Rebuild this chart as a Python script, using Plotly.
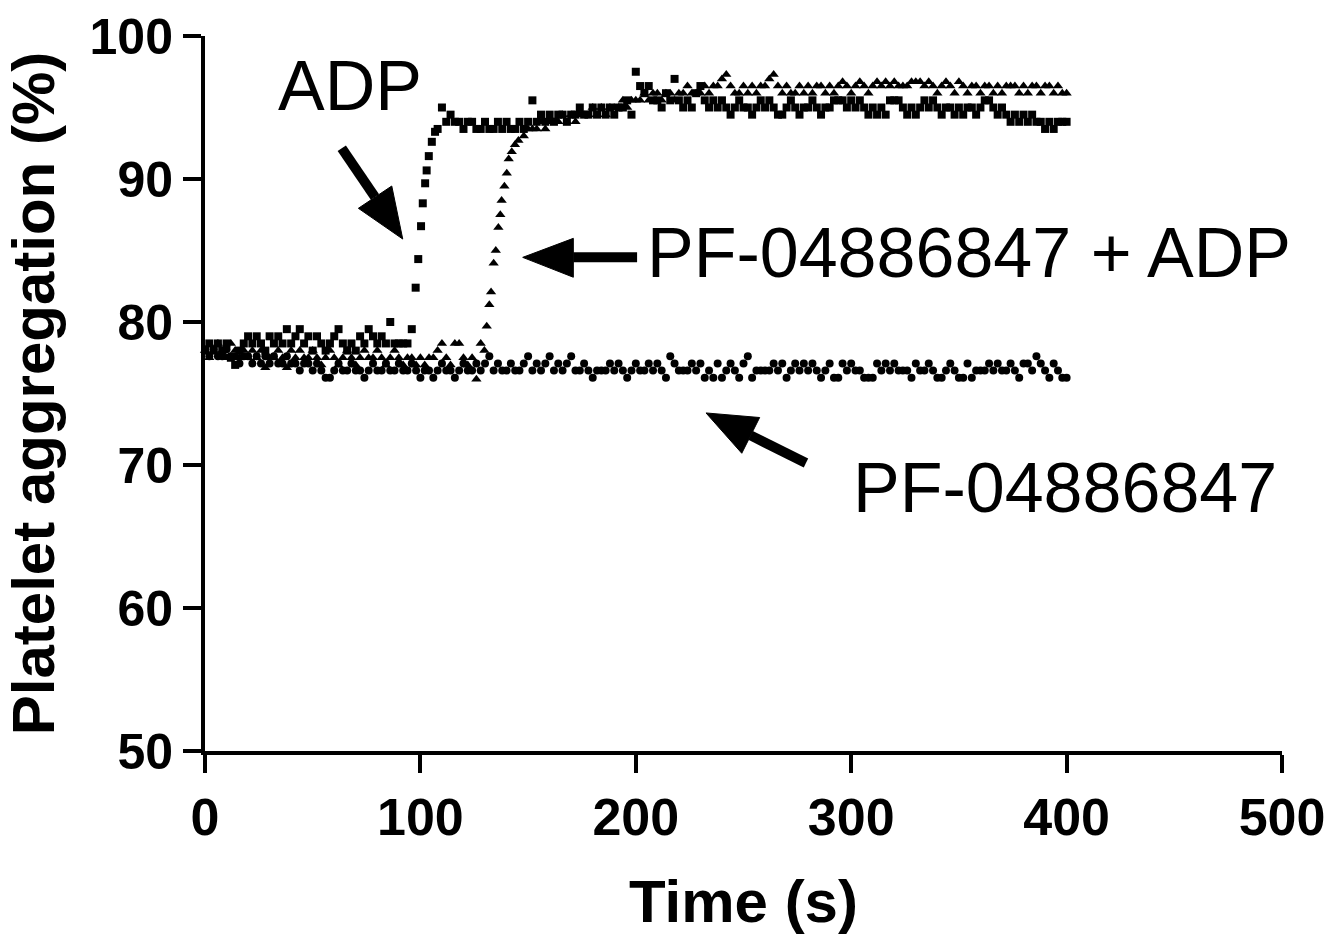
import plotly.graph_objects as go

# ---------------- data ----------------
# ADP (squares)
adp_t = list(range(0, 97, 2)) + [97.8, 99.0, 100.3, 101.1, 102.2, 102.9, 103.9, 105.3, 106.8] \
    + list(range(108, 201, 2)) + list(range(202, 401, 2))
adp_y = [
    78.0, 78.5, 78.0, 78.5, 78.0, 78.5, 77.5, 77.0, 78.0, 78.5,
    79.0, 78.5, 79.0, 78.5, 78.0, 79.0, 78.5, 79.0, 78.5, 79.5,
    78.5, 79.0, 79.5, 78.5, 79.0, 78.0, 79.0, 78.5, 78.0, 78.5,
    79.0, 79.5, 78.5, 78.0, 78.5, 78.0, 79.0, 78.5, 79.5, 79.0,
    78.5, 79.0, 78.5, 80.0, 78.5, 78.5, 78.5, 78.5, 79.5,
    # rise
    82.4, 84.4, 86.7, 88.3, 89.7, 90.6, 91.6, 92.6, 93.3,
    # 108-200
    93.5, 95.0, 94.0, 94.5, 94.0, 94.0, 93.5, 94.0, 94.0, 93.5,
    93.5, 94.0, 93.5, 93.5, 94.0, 93.5, 94.0, 93.5, 93.5, 94.0,
    93.5, 94.0, 95.5, 94.0, 94.5, 94.0, 94.5, 94.0, 94.5, 94.5,
    94.0, 94.5, 94.5, 95.0, 94.5, 94.5, 95.0, 94.5, 95.0, 94.5,
    95.0, 94.5, 95.0, 95.0, 95.5, 94.5, 97.5,
    # 202-400
    96.5, 96.0, 96.5, 95.5, 95.5, 95.0, 96.0, 95.5, 97.0, 95.5,
    95.0, 95.5, 95.0, 96.0, 96.5, 95.5, 95.0, 95.5, 95.0, 95.5,
    95.0, 94.5, 95.0, 95.5, 95.0, 95.0, 94.5, 95.0, 95.5, 95.0,
    95.5, 95.0, 94.5, 94.5, 95.0, 95.5, 95.0, 94.5, 95.0, 95.0,
    95.5, 95.0, 94.5, 95.0, 95.0, 95.5, 95.5, 95.5, 95.0, 95.5,
    95.0, 95.5, 95.0, 94.5, 95.0, 94.5, 95.0, 94.5, 95.5, 95.5,
    95.5, 95.0, 94.5, 95.0, 94.5, 95.0, 95.5, 95.0, 95.5, 95.0,
    94.5, 95.0, 95.0, 94.5, 95.0, 94.5, 95.0, 95.0, 94.5, 95.0,
    95.5, 95.5, 95.0, 94.5, 95.0, 94.5, 94.0, 94.5, 94.0, 94.5,
    94.0, 94.5, 94.0, 94.0, 93.5, 94.0, 93.5, 94.0, 94.0, 94.0,
]

# PF-04886847 + ADP (triangles)
combo_t = list(range(0, 129, 2)) + [129.7, 130.8, 132.0, 132.8, 134.0, 135.0, 136.2, 137.1, 137.7,
                                    139.0, 140.1, 141.0, 142.4, 143.9, 145.5] \
    + list(range(148, 201, 2)) + list(range(202, 401, 2))
combo_y = [
    78.0, 77.5, 78.0, 78.5, 78.0, 77.5, 78.5, 78.0, 77.5, 78.0,
    77.5, 78.0, 77.5, 78.0, 76.8, 77.5, 77.5, 78.0, 77.5, 76.8,
    78.0, 77.5, 78.0, 77.5, 77.5, 78.0, 77.5, 77.0, 77.5, 78.0,
    77.5, 77.0, 77.5, 78.0, 77.5, 77.0, 77.5, 78.0, 77.5, 77.5,
    78.0, 77.5, 77.0, 77.5, 78.0, 77.5, 77.0, 77.5, 77.5, 77.0,
    77.5, 77.0, 77.5, 77.5, 78.0, 78.5, 77.5, 77.0, 78.5, 78.5,
    77.5, 77.0, 77.5, 76.0, 78.5,
    # rise
    78.0, 79.7, 81.2, 82.1, 84.1, 85.0, 86.6, 87.5, 88.5,
    89.5, 90.4, 91.4, 91.9, 92.4, 92.7,
    # 148-200
    93.0, 93.5, 93.5, 93.5, 94.0, 93.5, 94.0, 94.0, 94.0, 94.5,
    94.0, 94.5, 94.0, 94.5, 94.5, 94.5, 95.0, 94.5, 95.0, 94.5,
    95.0, 95.0, 95.0, 95.5, 95.0, 95.5, 95.5,
    # 202-400
    95.5, 96.0, 95.5, 96.0, 96.0, 95.5, 96.0, 96.0, 95.5, 96.0,
    96.0, 96.5, 96.0, 96.0, 96.0, 96.5, 96.0, 96.5, 96.5, 97.0,
    97.3, 96.5, 96.0, 96.0, 96.5, 96.0, 96.5, 96.0, 96.5, 96.5,
    97.0, 97.3, 96.5, 96.0, 96.5, 96.0, 96.0, 96.5, 96.0, 96.5,
    96.0, 96.5, 96.5, 96.0, 96.5, 96.0, 96.5, 96.8, 96.5, 96.0,
    96.5, 96.8, 96.5, 96.0, 96.5, 96.8, 96.5, 96.8, 96.5, 96.8,
    96.5, 96.5, 96.5, 96.8, 96.8, 96.8, 96.5, 96.8, 96.5, 96.0,
    96.5, 96.8, 96.5, 96.0, 96.8, 96.5, 96.0, 96.5, 96.5, 96.0,
    96.5, 96.5, 96.0, 96.5, 96.0, 96.5, 96.5, 96.5, 96.0, 96.5,
    96.0, 96.5, 96.5, 96.0, 96.5, 96.5, 96.0, 96.5, 96.0, 96.0,
]

# PF-04886847 alone (circles)
pf_t = list(range(0, 401, 2))
pf_y = [
    78.1, 77.6, 78.1, 77.6, 77.6, 78.1, 77.6, 77.6, 77.1, 77.6,
    77.6, 77.1, 77.6, 77.1, 77.6, 77.1, 77.6, 77.1, 77.1, 77.6,
    77.1, 77.1, 76.6, 77.1, 77.1, 76.6, 77.1, 76.6,
    # 56-100
    76.1, 76.1, 76.6, 77.1, 76.6, 76.6, 77.1, 76.6, 76.6, 76.1,
    76.6, 77.1, 76.6, 76.6, 77.1, 76.6, 76.6, 77.1, 76.6, 76.6,
    77.1, 76.6, 76.1,
    # 102-200
    76.6, 76.6, 76.1, 76.6, 77.1, 76.6, 76.6, 76.1, 76.6, 77.1,
    76.6, 76.6, 77.1, 76.6, 77.1, 77.6, 76.6, 77.1, 76.6, 76.6,
    77.1, 76.6, 76.6, 77.1, 77.6, 76.6, 77.1, 76.6, 77.1, 77.6,
    76.6, 77.1, 76.6, 77.1, 77.6, 76.6, 76.6, 77.1, 76.6, 76.1,
    76.6, 76.6, 76.6, 77.1, 76.6, 77.1, 76.6, 76.1, 76.6, 77.1,
    # 202-300
    76.6, 76.6, 77.1, 76.6, 77.1, 76.6, 76.1, 77.6, 77.1, 76.6,
    76.6, 76.6, 77.1, 76.6, 77.1, 76.1, 76.6, 76.1, 77.1, 76.1,
    76.6, 77.1, 76.6, 76.1, 77.1, 77.6, 76.1, 76.6, 76.6, 76.6,
    76.6, 77.1, 76.6, 77.1, 76.1, 76.6, 77.1, 76.6, 77.1, 76.6,
    77.1, 76.6, 76.1, 76.6, 77.1, 76.1, 76.1, 77.1, 76.6, 77.1,
    # 302-400
    76.6, 76.6, 76.1, 76.1, 76.1, 77.1, 76.6, 77.1, 76.6, 77.1,
    76.6, 76.6, 76.6, 76.1, 77.1, 76.6, 76.6, 77.1, 76.6, 76.1,
    76.1, 76.6, 77.1, 76.6, 76.1, 76.1, 77.1, 76.1, 76.6, 76.6,
    76.6, 77.1, 76.6, 77.1, 76.6, 76.6, 77.1, 76.6, 76.1, 77.1,
    77.1, 76.6, 77.6, 77.1, 76.6, 76.1, 77.1, 76.6, 76.1, 76.1,
]

x_ticks = [0, 100, 200, 300, 400, 500]
y_ticks = [50, 60, 70, 80, 90, 100]

assert len(adp_t) == len(adp_y)
assert len(combo_t) == len(combo_y)
assert len(pf_t) == len(pf_y)

# ---------------- figure ----------------
fig = go.Figure()
fig.add_trace(go.Scatter(x=adp_t, y=adp_y, mode="markers", name="ADP",
                         marker=dict(symbol="square", size=8, color="black", line=dict(width=0)),
                         cliponaxis=False))
fig.add_trace(go.Scatter(x=combo_t, y=combo_y, mode="markers", name="PF-04886847 + ADP",
                         marker=dict(symbol="triangle-up", size=9, color="black", line=dict(width=0)),
                         cliponaxis=False))
fig.add_trace(go.Scatter(x=pf_t, y=pf_y, mode="markers", name="PF-04886847",
                         marker=dict(symbol="circle", size=8, color="black", line=dict(width=0)),
                         cliponaxis=False))

xtick_font = dict(family="Liberation Sans, Arial, sans-serif", size=52, color="black", weight="bold")
ytick_font = dict(family="Liberation Sans, Arial, sans-serif", size=50, color="black", weight="bold")
title_font = dict(family="Liberation Sans, Arial, sans-serif", size=60, color="black", weight="bold")
ann_font = dict(family="Liberation Sans, Arial, sans-serif", size=70, color="black")

fig.update_layout(
    width=1328, height=939,
    margin=dict(l=205, r=46, t=36, b=188),
    plot_bgcolor="white", paper_bgcolor="white",
    showlegend=False,
    xaxis=dict(range=[0, 500], tickvals=x_ticks, ticktext=[str(v) for v in x_ticks],
               ticks="outside", ticklen=18, tickwidth=3.5, tickcolor="black",
               showline=True, linewidth=4, linecolor="black", automargin=False,
               showgrid=False, zeroline=False, tickfont=xtick_font,
               title=dict(text="Time (s)", font=title_font, standoff=36)),
    yaxis=dict(range=[50, 100], tickvals=y_ticks, ticktext=[str(v) for v in y_ticks],
               ticks="outside", ticklen=18, tickwidth=3.5, tickcolor="black",
               showline=True, linewidth=4, linecolor="black", automargin=False,
               showgrid=False, zeroline=False, tickfont=ytick_font,
               title=dict(text="Platelet aggregation (%)", font=title_font, standoff=36)),
)

# text labels
fig.add_annotation(x=67.3, y=96.5, xref="x", yref="y", text="ADP", showarrow=False,
                   font=ann_font, xanchor="center", yanchor="middle")
fig.add_annotation(x=354.7, y=84.8, xref="x", yref="y", text="PF-04886847 + ADP", showarrow=False,
                   font=ann_font, xanchor="center", yanchor="middle")
fig.add_annotation(x=399.3, y=68.4, xref="x", yref="y", text="PF-04886847", showarrow=False,
                   font=ann_font, xanchor="center", yanchor="middle")

# arrows (shaft + filled head), in data coordinates
arrows = [
    # tail, base-mid, base-vertex-1, tip, base-vertex-2
    ((63.5, 92.15), (78.9, 88.74), (71.2, 87.95), (91.8, 85.8), (86.7, 89.51)),
    ((200.6, 84.52), (171.0, 84.52), (171.0, 85.85), (147.5, 84.52), (171.0, 83.13)),
    ((279.0, 70.14), (253.3, 72.07), (257.5, 73.32), (232.6, 73.64), (249.2, 70.82)),
]
for tail, mid, v1, tip, v2 in arrows:
    fig.add_shape(type="line", x0=tail[0], y0=tail[1], x1=mid[0], y1=mid[1],
                  xref="x", yref="y", line=dict(color="black", width=10))
    fig.add_shape(type="path",
                  path=f"M {v1[0]},{v1[1]} L {tip[0]},{tip[1]} L {v2[0]},{v2[1]} Z",
                  xref="x", yref="y", fillcolor="black", line=dict(color="black", width=1))

# remove the browser's default page margin so the figure sits at the window's top-left corner
fig.write_html("out.html", config={"displayModeBar": False},
               post_script="document.body.style.margin='0';document.body.style.overflow='hidden';")
